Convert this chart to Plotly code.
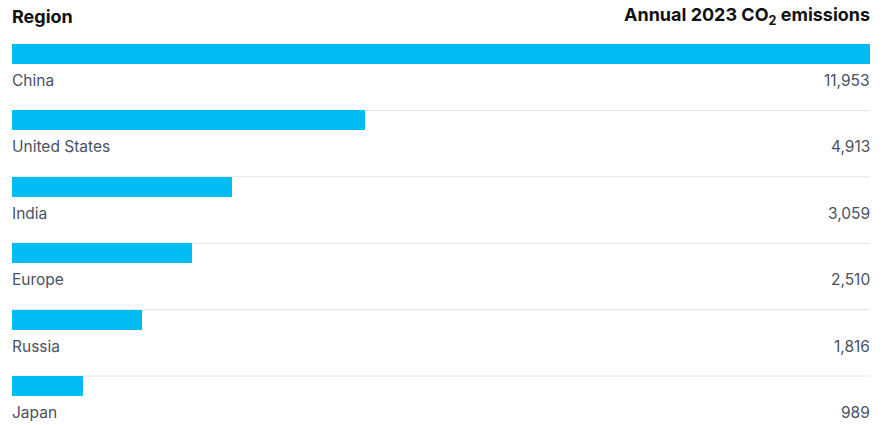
import plotly.graph_objects as go

# Annual 2023 CO2 emissions by region (million tonnes)
regions = ["China", "United States", "India", "Europe", "Russia", "Japan"]
emissions = [11953, 4913, 3059, 2510, 1816, 989]
value_labels = ["11,953", "4,913", "3,059", "2,510", "1,816", "989"]

BAR_COLOR = "#00BCF2"
LABEL_COLOR = "#4A5263"
FONT = "Inter, Roboto, Arial, sans-serif"

rows = list(range(len(regions)))
xmax = max(emissions)

fig = go.Figure()
fig.add_trace(go.Bar(
    x=emissions,
    y=rows,
    orientation="h",
    width=0.30,
    marker=dict(color=BAR_COLOR, line=dict(width=0)),
    hoverinfo="skip",
))

annotations = []
shapes = []
for i, (name, lab) in enumerate(zip(regions, value_labels)):
    annotations.append(dict(x=0, y=i + 0.40, xref="x", yref="y", text=name,
                            showarrow=False, xanchor="left", yanchor="middle",
                            xshift=-2,
                            font=dict(family=FONT, size=15.5, color=LABEL_COLOR)))
    annotations.append(dict(x=xmax, y=i + 0.40, xref="x", yref="y", text=lab,
                            showarrow=False, xanchor="right", yanchor="middle",
                            xshift=2,
                            font=dict(family=FONT, size=15.5, color=LABEL_COLOR)))
    # thin divider across the row, drawn under the bar
    shapes.append(dict(type="line", xref="x", yref="y", x0=0, x1=xmax,
                       y0=i - 0.15, y1=i - 0.15, layer="below",
                       line=dict(color="#E2E4E8", width=1)))

# column headers
annotations.append(dict(x=0, y=-0.57, xref="x", yref="y", text="<b>Region</b>",
                        showarrow=False, xanchor="left", yanchor="middle",
                        xshift=-2,
                        font=dict(family=FONT, size=18, color="#111111")))
annotations.append(dict(x=xmax, y=-0.57, xref="x", yref="y",
                        text="<b>Annual 2023 CO<sub>2</sub> emissions</b>",
                        showarrow=False, xanchor="right", yanchor="middle",
                        xshift=2,
                        font=dict(family=FONT, size=18, color="#111111")))

fig.update_layout(
    width=887, height=425,
    margin=dict(l=12, r=17, t=0, b=0),
    paper_bgcolor="white", plot_bgcolor="white",
    showlegend=False,
    bargap=0,
    xaxis=dict(range=[0, xmax], visible=False, fixedrange=True),
    yaxis=dict(range=[5.587, -0.813], visible=False, fixedrange=True),
    annotations=annotations,
    shapes=shapes,
)

fig.write_html("out.html", config={"displayModeBar": False})
